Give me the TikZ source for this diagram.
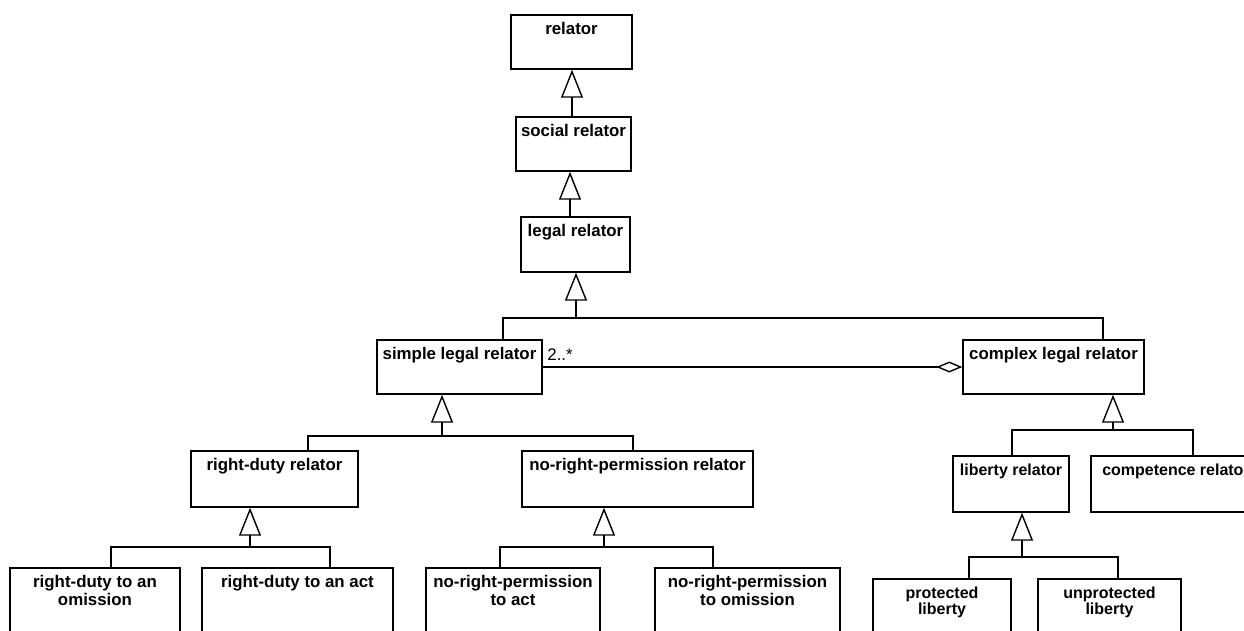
\documentclass[tikz,border=0pt]{standalone}
\usepackage{fontspec}
\setmainfont{Liberation Sans}
\usetikzlibrary{arrows.meta,fit}

\begin{document}
\begin{tikzpicture}
[x=0.02cm, y=-0.02cm, line width=0.8pt,
cls/.style={draw, inner sep=0pt},
ttl/.style={anchor=north, inner sep=0pt, yshift=-0.15cm, align=center,
  font=\bfseries\fontsize{9.6}{10.2}\selectfont},
sttl/.style={ttl, font=\bfseries\fontsize{9.1}{9.1}\selectfont},
gen/.style={-{Triangle[open, length=0.56cm, width=0.44cm]}},
agg/.style={-{Diamond[open, length=0.52cm, width=0.22cm]}}]
\useasboundingbox (0,0) rectangle (1244,630);
\clip (0,0) rectangle (1244,630);

\node[cls, fit={(511,15) (632,69)}, label={[ttl]north:relator}] (relator) {};
\node[cls, fit={(516,117) (631,171)}, label={[ttl]north:social relator}] (social) {};
\node[cls, fit={(521,217) (630,272)}, label={[ttl]north:legal relator}] (legal) {};
\node[cls, fit={(377,340) (542,394)}, label={[ttl]north:simple legal relator}] (simple) {};
\node[cls, fit={(963,340) (1144,394)}, label={[ttl]north:complex legal relator}] (complex) {};
\node[cls, fit={(191,451) (358,507)}, label={[ttl]north:right-duty relator}] (rightduty) {};
\node[cls, fit={(522,451) (753,507)}, label={[ttl]north:no-right-permission relator}] (noright) {};
\node[cls, fit={(953,456) (1069,512)}, label={[sttl]north:liberty relator}] (liberty) {};
\node[cls, fit={(1091,456) (1261,512)}, label={[sttl]north:competence relator}] (competence) {};
\node[cls, fit={(10,568) (180,660)}, label={[ttl]north:{right-duty to an\\omission}}] (rdomission) {};
\node[cls, fit={(202,568) (393,660)}, label={[ttl]north:right-duty to an act}] (rdact) {};
\node[cls, fit={(426,568) (600,660)}, label={[ttl]north:{no-right-permission\\to act}}] (nract) {};
\node[cls, fit={(655,568) (840,660)}, label={[ttl]north:{no-right-permission\\to omission}}] (nromission) {};
\node[cls, fit={(873,579) (1011,660)}, label={[sttl]north:{protected\\liberty}}] (protected) {};
\node[cls, fit={(1038,579) (1181,660)}, label={[sttl]north:{unprotected\\liberty}}] (unprotected) {};

% single generalizations
\draw[gen] (social.north -| 572,0) -- (relator.south -| 572,0);
\draw[gen] (legal.north -| 570,0) -- (social.south -| 570,0);

% generalization sets
\coordinate (j1) at (576,318);
\coordinate (j2) at (442,436);
\coordinate (j3) at (1113,430);
\coordinate (j4) at (250,547);
\coordinate (j5) at (604,547);
\coordinate (j6) at (1022,557);

\draw[gen] (j1) -- (legal.south -| j1);
\draw (simple.north -| 503,0) |- (j1) -| (complex.north -| 1103,0);
\draw[gen] (j2) -- (simple.south -| j2);
\draw (rightduty.north -| 308,0) |- (j2) -| (noright.north -| 633,0);
\draw[gen] (j3) -- (complex.south -| j3);
\draw (liberty.north -| 1012,0) |- (j3) -| (competence.north -| 1193,0);
\draw[gen] (j4) -- (rightduty.south -| j4);
\draw (rdomission.north -| 111,0) |- (j4) -| (rdact.north -| 330,0);
\draw[gen] (j5) -- (noright.south -| j5);
\draw (nract.north -| 500,0) |- (j5) -| (nromission.north -| 713,0);
\draw[gen] (j6) -- (liberty.south -| j6);
\draw (protected.north -| 969,0) |- (j6) -| (unprotected.north -| 1118,0);

% aggregation
\draw[agg] (simple) -- node[pos=0, anchor=south west, inner sep=0pt, xshift=0.08cm,
  yshift=0.12cm, font=\fontsize{9.6}{10}\selectfont] (mult) {2..*} (complex);
\end{tikzpicture}
\end{document}
